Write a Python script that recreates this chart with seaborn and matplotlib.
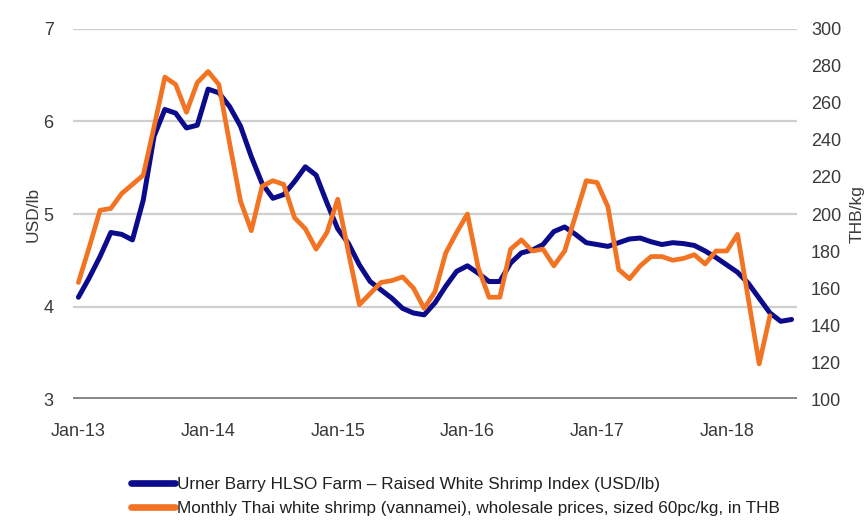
import numpy as np
import pandas as pd
import matplotlib
matplotlib.use("Agg")
import matplotlib.pyplot as plt
import seaborn as sns

# Monthly series Jan-13 .. Jul-18
months = pd.date_range("2013-01-01", "2018-07-01", freq="MS")

usd_lb = [4.10, 4.31, 4.54, 4.80, 4.78, 4.72, 5.15, 5.84, 6.13, 6.09, 5.93, 5.96,
          6.35, 6.31, 6.16, 5.95, 5.62, 5.33, 5.17, 5.21, 5.35, 5.51, 5.42, 5.12,
          4.84, 4.68, 4.45, 4.27, 4.18, 4.09, 3.98, 3.93, 3.91, 4.04, 4.22, 4.38,
          4.44, 4.36, 4.27, 4.27, 4.47, 4.58, 4.61, 4.67, 4.81, 4.86, 4.78, 4.69,
          4.67, 4.65, 4.69, 4.73, 4.74, 4.70, 4.67, 4.69, 4.68, 4.66, 4.60, 4.53,
          4.45, 4.37, 4.25, 4.09, 3.93, 3.84, 3.86]

thb_kg = [163, 182, 202, 203, 211, 216, 221, 247, 274, 270, 255, 271,
          277, 270, 238, 207, 191, 215, 218, 216, 198, 192, 181, 190,
          208, 179, 151, 157, 163, 164, 166, 160, 149, 158, 179, 190,
          200, 171, 155, 155, 181, 186, 180, 181, 172, 180, 199, 218,
          217, 204, 170, 165, 172, 177, 177, 175, 176, 178, 173, 180,
          180, 189, 154, 119, 145]

tick_labels = ["Jan-13", "Jan-14", "Jan-15", "Jan-16", "Jan-17", "Jan-18"]

label_usd = "Urner Barry HLSO Farm \u2013 Raised White Shrimp Index (USD/lb)"
label_thb = "Monthly Thai white shrimp (vannamei), wholesale prices, sized 60pc/kg, in THB"

sns.set_theme(style="white")
plt.rcParams["font.family"] = ["Liberation Sans", "DejaVu Sans"]

blue = "#0b0b8c"
orange = "#f27321"
txt = "#3a3a3a"

fig = plt.figure(figsize=(8.66, 5.26), dpi=100)
ax = fig.add_axes([0.0843, 0.2414, 0.836, 0.7035])
ax2 = ax.twinx()

x_usd = np.arange(len(usd_lb))
x_thb = np.arange(len(thb_kg))

sns.lineplot(x=x_usd, y=usd_lb, ax=ax, color=blue, linewidth=3.6, label=label_usd, legend=False)
sns.lineplot(x=x_thb, y=thb_kg, ax=ax2, color=orange, linewidth=3.4, label=label_thb, legend=False)

ax.set_xlim(-0.5, len(months) - 0.5)
ax.set_ylim(3, 7)
ax2.set_ylim(100, 300)
ax.set_yticks([3, 4, 5, 6, 7])
ax2.set_yticks(range(100, 301, 20))
ax.set_xticks(range(0, 61, 12))
ax.set_xticklabels(tick_labels)

ax.grid(axis="y", color="#cfcfcf", linewidth=1.6)
ax.grid(axis="x", visible=False)
ax2.grid(False)
ax.set_axisbelow(True)
for a in (ax, ax2):
    for s in a.spines.values():
        s.set_visible(False)
    a.tick_params(length=0, labelsize=13, colors=txt)
ax.axhline(3, color="#858585", linewidth=2.8, zorder=1)
ax.tick_params(axis="y", pad=14)
ax.tick_params(axis="x", pad=17)
ax2.tick_params(axis="y", pad=10)

ax.set_ylabel("USD/lb", fontsize=12.5, color=txt, labelpad=2)
ax2.set_ylabel("THB/kg", fontsize=12.5, color=txt, labelpad=6)

h1, l1 = ax.get_legend_handles_labels()
h2, l2 = ax2.get_legend_handles_labels()
fig.legend(h1 + h2, l1 + l2, loc="upper left", bbox_to_anchor=(0.143, 0.106),
           frameon=False, fontsize=12.3, handlelength=2.6, handletextpad=0.1,
           labelspacing=0.5, borderaxespad=0)
for line in fig.legends[0].get_lines():
    line.set_linewidth(4.8)
for t in fig.legends[0].get_texts():
    t.set_color("#202020")

fig.savefig("out.png", dpi=100)
